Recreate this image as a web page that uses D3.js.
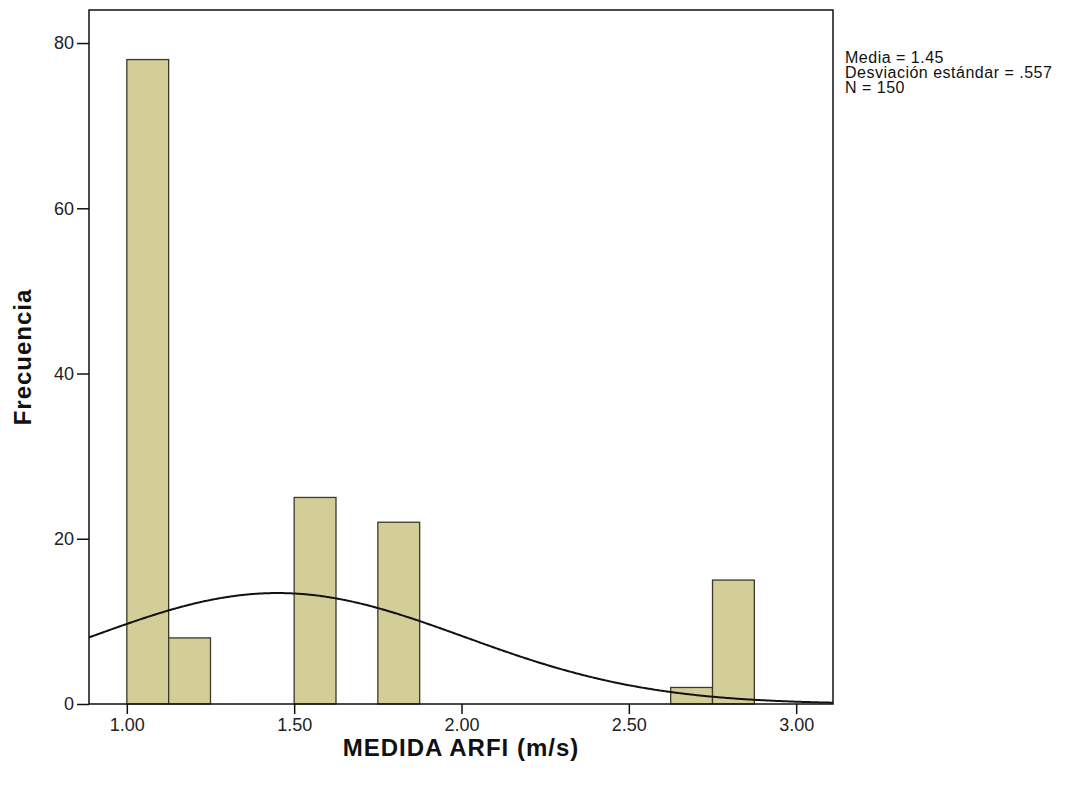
<!DOCTYPE html>
<html lang="es">
<head>
  <meta charset="UTF-8" />
  <title>MEDIDA ARFI (m/s)</title>
  <script src="https://d3js.org/d3.v7.min.js"></script>
  <style>
    body { margin: 0; background: white; font-family: "Liberation Sans", Arial, sans-serif; }
    .bar { fill: #d3ce98; stroke: #3b3a2a; stroke-width: 1.3px; }
    .axis text { font-size: 18px; fill: #222; }
    .axis path, .axis line { stroke: #111; stroke-width: 1.5px; }
    .title { font-weight: bold; font-size: 24px; letter-spacing: 1px; fill: #111; }
    .stats { font-size: 16px; letter-spacing: 0.5px; fill: #111; }
  </style>
</head>
<body>
  <svg id="chart" width="1091" height="790"></svg>

  <script>
    // bins of the histogram (lower edge, upper edge, count)
    const binStart = [1.000, 1.125, 1.500, 1.750, 2.625, 2.750];
    const binEnd   = [1.125, 1.250, 1.625, 1.875, 2.750, 2.875];
    const counts   = [78, 8, 25, 22, 2, 15];

    const xTicks = [1.00, 1.50, 2.00, 2.50, 3.00];
    const yTicks = [0, 20, 40, 60, 80];

    const mean = 1.45, sd = 0.557, n = 150, binWidth = 0.125;
    const statLines = ["Media = 1.45", "Desviación estándar = .557", "N = 150"];

    const svg = d3.select("#chart");
    const plotL = 89, plotR = 833, plotT = 10, plotB = 704;

    const x = d3.scaleLinear().domain([0.887, 3.110]).range([plotL, plotR]);
    const y = d3.scaleLinear().domain([0, 84]).range([plotB, plotT]);

    // bars
    svg.selectAll("rect.bar")
      .data(counts)
      .join("rect")
      .attr("class", "bar")
      .attr("x", (d, i) => x(binStart[i]))
      .attr("width", (d, i) => x(binEnd[i]) - x(binStart[i]))
      .attr("y", d => y(d))
      .attr("height", d => y(0) - y(d));

    // normal curve scaled to counts
    const curveXs = d3.range(0, 301).map(i => 0.887 + i * (3.110 - 0.887) / 300);
    const normal = v => n * binWidth / (sd * Math.sqrt(2 * Math.PI)) * Math.exp(-0.5 * ((v - mean) / sd) ** 2);
    svg.append("path")
      .datum(curveXs)
      .attr("fill", "none")
      .attr("stroke", "#111")
      .attr("stroke-width", 2)
      .attr("d", d3.line().x(d => x(d)).y(d => y(normal(d))).curve(d3.curveBasis));

    // frame
    svg.append("rect")
      .attr("x", plotL).attr("y", plotT)
      .attr("width", plotR - plotL).attr("height", plotB - plotT)
      .attr("fill", "none").attr("stroke", "#111").attr("stroke-width", 1.5);

    svg.append("g")
      .attr("class", "axis")
      .attr("transform", `translate(0,${plotB})`)
      .call(d3.axisBottom(x).tickValues(xTicks).tickFormat(d3.format(".2f")).tickSize(10).tickSizeOuter(0).tickPadding(4))
      .call(g => g.select(".domain").remove());

    svg.append("g")
      .attr("class", "axis")
      .attr("transform", `translate(${plotL},0)`)
      .call(d3.axisLeft(y).tickValues(yTicks).tickSize(12).tickSizeOuter(0).tickPadding(3))
      .call(g => g.select(".domain").remove());

    svg.append("text")
      .attr("class", "title")
      .attr("x", (plotL + plotR) / 2)
      .attr("y", 756)
      .attr("text-anchor", "middle")
      .text("MEDIDA ARFI (m/s)");

    svg.append("text")
      .attr("class", "title")
      .attr("transform", `translate(31,${(plotT + plotB) / 2}) rotate(-90)`)
      .attr("text-anchor", "middle")
      .text("Frecuencia");

    svg.append("g")
      .selectAll("text")
      .data(statLines)
      .join("text")
      .attr("class", "stats")
      .attr("x", 845)
      .attr("y", (d, i) => 63 + i * 15)
      .text(d => d);
  </script>
</body>
</html>
